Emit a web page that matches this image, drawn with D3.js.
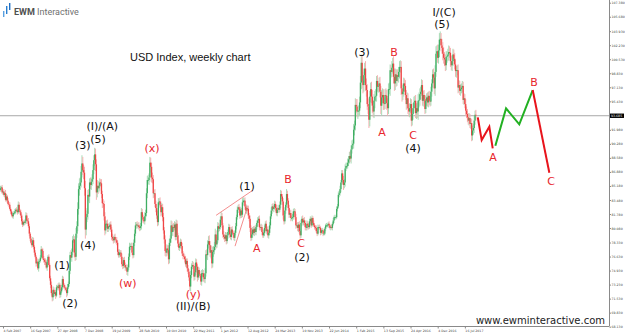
<!DOCTYPE html>
<html>
<head>
<meta charset="utf-8">
<script src="https://cdnjs.cloudflare.com/ajax/libs/d3/7.8.5/d3.min.js"></script>
<style>
  body { margin: 0; background: #fff; }
  svg { display: block; }
  .wave { font-family: "DejaVu Sans", sans-serif; font-size: 11px; text-anchor: middle; dominant-baseline: central; }
  .axis text { font-family: "DejaVu Sans", sans-serif; font-size: 3.2px; fill: #444; }
  .axis line { stroke: #888; }
  .axis path { display: none; }
</style>
</head>
<body>
<div id="chart"></div>
<script>
// weekly USD index closes, one array per year (first bar = week of 14 Jan 2007)
var firstOpen = 84.7;
var close2007 = [84.9,85.0,84.4,84.5,84.1,84.3,83.5,83.9,83.4,83.0,82.9,82.4,82.1,81.7,81.5,81.9,81.9,82.1,82.3,82.2,82.0,82.9,82.2,82.0,81.6,80.9,80.5,80.8,80.7,80.9,81.6,81.0,80.9,80.3,79.4,78.8,78.3,78.0,78.6,77.8,77.1,76.6,75.8,76.0,75.2,76.0,76.1,76.5,77.5,77.3,76.4];
var close2008 = [76.2,76.0,75.9,75.3,76.0,76.6,75.6,74.0,73.2,72.2,71.7,72.6,72.1,72.3,71.9,72.9,73.0,72.8,73.2,72.0,72.4,72.9,73.9,73.2,72.9,72.8,72.6,72.2,72.9,73.3,74.9,76.8,76.5,77.2,78.6,78.7,77.1,76.6,79.4,80.3,82.4,84.8,85.2,85.6,86.9,87.9,87.1,86.8,84.9,79.9,81.4,81.8];
var close2009 = [84.1,83.9,85.6,85.3,85.7,86.0,87.1,88.3,89.0,87.8,84.4,85.2,84.9,85.2,85.6,85.5,84.2,83.1,83.0,81.5,79.8,80.6,80.6,80.0,80.3,80.2,80.5,79.9,79.0,78.8,78.6,79.0,78.7,78.6,78.3,77.2,76.8,77.1,77.1,76.6,75.7,75.5,76.2,75.6,75.3,75.3,74.8,75.3,76.6,77.8,77.9,77.9];
var close2010 = [77.1,76.8,78.3,79.4,80.4,80.5,80.4,80.4,80.2,80.1,80.3,82.0,81.4,81.1,80.9,81.5,81.9,84.3,85.9,85.9,86.2,88.0,87.5,86.2,86.0,84.3,84.3,83.0,82.5,81.6,80.8,83.2,83.3,82.9,82.0,82.6,81.4,79.8,78.7,77.3,77.1,77.6,77.4,76.3,78.3,78.8,80.4,79.6,80.2,80.1,80.5,79.0];
var close2011 = [80.6,79.2,78.2,77.7,77.9,78.4,77.9,77.0,76.7,76.6,76.3,75.7,76.1,75.2,74.8,74.1,73.0,74.4,75.4,75.6,75.5,74.2,74.7,75.9,75.4,74.1,75.0,74.5,74.3,73.6,74.6,74.6,74.1,73.9,74.6,76.9,76.8,78.1,78.5,78.0,77.1,77.4,75.8,77.2,77.4,77.8,79.3,78.1,78.6,80.3,80.0,80.2];
var close2012 = [81.1,81.5,80.4,79.3,79.0,78.8,79.2,78.5,79.2,79.6,80.2,79.3,79.0,79.9,79.5,79.3,78.9,79.5,80.3,81.4,82.3,82.6,82.4,81.6,82.2,81.7,83.2,83.4,83.4,82.7,82.2,82.5,82.4,81.6,81.2,80.1,78.9,79.3,79.9,79.5,80.0,79.6,80.2,80.7,81.0,81.2,80.2,80.1,80.2,79.6,79.2,79.5,80.1];
var close2013 = [80.6,79.7,79.9,79.2,79.5,80.4,81.5,82.2,82.7,82.4,82.6,83.0,82.5,81.9,82.3,82.5,82.3,82.9,84.2,83.9,83.3,81.6,80.9,82.2,82.9,84.2,83.4,82.5,81.7,81.9,81.3,81.3,81.4,82.1,82.1,81.4,80.4,80.4,80.1,80.5,79.7,79.2,80.7,81.2,80.8,81.0,80.7,80.2,80.1,80.6,80.4,80.2];
var close2014 = [80.9,81.2,80.4,81.3,80.7,80.4,80.2,80.1,79.7,79.4,80.2,80.2,80.1,79.5,79.8,79.8,79.4,79.4,80.0,80.4,80.4,80.4,80.6,80.4,80.1,80.2,80.1,80.6,81.0,81.4,81.4,81.4,82.4,82.7,84.1,84.3,84.8,85.6,86.7,85.9,85.3,85.6,87.3,87.6,87.6,88.0,88.4,88.8,88.5,89.6,90.1,90.3];
var close2015 = [92.0,92.5,95.0,94.8,94.2,94.3,94.3,95.3,97.7,100.1,97.9,97.4,98.6,99.4,97.4,96.8,95.1,94.8,93.2,96.0,96.9,96.0,94.9,94.2,95.5,96.0,96.1,97.9,97.2,97.3,97.6,96.6,94.9,95.9,96.2,95.2,95.1,96.2,96.1,95.2,94.6,96.9,96.9,99.2,99.0,99.5,100.0,98.4,97.6,98.7,97.9,98.6];
var close2016 = [98.4,99.0,99.6,99.6,97.0,96.3,96.6,97.6,97.3,96.2,95.1,95.8,94.6,94.2,94.6,95.1,93.1,93.9,94.6,95.3,95.5,94.0,94.6,94.2,95.5,95.6,96.3,96.6,97.4,95.5,96.2,95.7,94.5,95.5,95.9,95.3,96.1,95.5,95.4,96.6,97.6,98.7,98.3,97.0,99.0,101.2,101.5,100.7,101.6,102.9,103.0,102.2];
var close2017 = [101.9,101.2,100.7,100.5,99.8,100.8,100.9,101.1,101.4,101.3,100.3,99.8,100.3,101.1,100.6,99.9,99.1,99.2,99.2,97.1,97.4,96.7,96.9,97.1,97.3,95.6,95.8,95.1,94.3,93.9,93.5,93.1,93.4,92.7,92.8,91.3,91.9,92.2,93.1,93.8,93.7];

// wick beyond the body, tenths of a point
var wickHi = [3,2,3,2,3,2,4,3,2,3,2,3,2,2,3,2,2,3,2,3,2,4,3,2,3,2,3,2,3,2,4,3,2,4,3,2,3,2,4,3,2,3,2,3,4,3,2,3,4,2,3,
  3,2,4,3,3,2,3,2,3,4,3,4,3,2,3,3,2,4,3,2,3,3,4,3,2,3,2,3,4,3,5,4,6,4,5,6,4,5,7,6,8,7,9,6,7,10,8,6,7,9,8,7,
  6,7,5,6,5,6,7,6,8,7,6,7,5,6,5,4,5,4,5,4,5,4,4,5,3,4,3,4,3,4,3,3,4,3,4,3,3,4,3,3,4,3,3,4,3,3,4,3,4,5,3,4,
  4,3,4,5,4,3,4,3,4,3,4,5,4,3,4,5,4,6,5,6,5,7,6,5,6,5,4,5,4,5,6,5,4,5,4,5,4,5,4,5,4,5,4,6,5,4,6,5,4,5,4,3,
  5,4,3,4,3,4,3,4,3,4,3,4,3,3,4,3,4,5,4,5,4,3,4,5,4,3,4,3,4,3,4,5,4,5,6,5,6,5,6,7,5,6,5,6,5,6,7,5,4,5,4,3,
  4,5,4,3,4,3,4,3,4,3,4,3,4,3,4,3,4,3,4,3,4,3,4,3,4,3,5,4,3,4,3,4,3,4,3,4,3,4,3,4,3,4,3,3,4,3,4,3,4,3,3,4,3,
  3,4,3,4,3,4,3,4,3,4,3,4,3,4,3,4,3,4,5,4,3,4,3,4,3,6,4,3,4,3,4,3,4,3,4,3,4,3,4,3,4,3,4,3,4,3,4,3,3,4,3,3,
  3,3,2,3,2,3,2,2,3,2,3,2,3,2,2,3,2,3,2,2,3,2,2,3,2,2,3,2,3,2,3,2,3,3,4,3,4,3,4,4,5,4,5,4,4,5,4,5,6,5,6,5,
  7,6,8,7,9,7,6,7,8,10,9,11,8,7,9,8,7,8,9,7,8,9,8,7,8,7,8,6,7,6,7,8,7,9,8,7,6,7,8,7,6,7,8,7,6,8,7,9,10,7,6,7,
  7,6,7,8,7,6,8,7,6,7,6,7,6,5,6,7,6,7,6,7,6,7,6,7,8,9,7,6,7,6,5,6,5,6,5,6,5,6,5,6,5,6,7,6,8,9,7,8,7,8,9,7,
  8,7,8,7,6,7,6,7,8,7,6,7,6,7,6,7,6,5,6,7,6,5,6,5,6,5,6,5,6,5,6,5,6,5,6,5,6,5,6,5,6];
var wickLo = [2,3,2,3,2,3,2,2,3,2,3,2,3,2,2,3,2,2,3,2,3,2,2,3,3,4,3,2,3,2,3,4,3,2,3,3,2,3,2,3,3,2,4,3,2,4,3,2,2,3,2,
  3,4,3,2,4,3,2,3,4,3,5,4,3,3,4,2,3,3,2,4,3,2,3,3,2,3,2,5,3,2,3,4,3,5,4,3,6,5,4,5,6,7,8,5,6,7,6,8,9,11,7,6,
  7,6,8,5,6,5,6,5,7,8,9,6,7,5,6,4,5,6,4,5,6,4,5,4,4,3,4,3,4,3,4,3,3,4,3,4,3,3,4,3,3,4,3,3,4,3,4,5,3,4,4,3,
  3,4,3,4,3,4,3,4,3,4,3,4,5,4,3,4,5,4,6,5,6,5,7,6,5,6,5,4,5,4,5,4,5,4,5,4,5,4,5,6,5,4,5,6,5,4,5,4,5,4,3,4,
  4,5,4,3,4,3,4,3,4,3,4,3,4,4,3,4,5,6,4,3,4,5,4,3,4,5,3,4,3,4,5,4,5,4,5,4,5,6,5,6,5,7,6,5,6,5,4,5,4,3,4,3,
  3,4,3,4,3,4,3,4,3,4,3,4,3,4,3,4,3,4,3,4,3,4,3,4,3,4,3,4,3,4,3,4,3,4,3,5,4,3,4,3,4,3,4,3,4,3,4,3,3,4,3,3,4,
  4,3,4,3,4,3,4,3,4,3,4,3,4,3,4,3,4,3,4,3,4,5,4,3,4,3,4,3,4,3,4,3,4,3,4,3,4,3,4,5,3,4,3,4,3,4,3,4,3,3,4,3,
  2,3,3,2,3,2,3,2,2,3,2,3,2,3,2,2,3,2,2,3,2,2,3,2,2,3,2,3,2,3,2,3,2,3,2,3,3,4,3,5,6,4,5,3,4,3,4,5,4,6,5,4,
  6,7,6,8,7,9,7,6,7,8,9,10,8,9,7,8,7,9,10,8,7,8,9,7,8,9,6,7,6,7,8,7,10,12,7,8,7,6,7,8,9,7,6,8,7,6,7,8,9,8,7,6,
  6,7,8,7,8,9,7,6,7,6,7,6,7,6,7,6,7,6,7,6,7,6,7,8,10,8,7,6,5,6,7,5,6,5,6,5,6,5,6,5,6,5,6,7,9,6,7,6,7,8,6,7,
  7,8,7,8,7,6,7,6,7,6,7,6,7,6,7,6,7,8,6,7,6,5,6,5,6,5,6,5,6,5,6,5,6,5,6,7,6,5,6,5,6];

var lastPrice = 93.685;
var priceTicks = [107.380,105.680,103.930,102.230,100.530,98.830,97.130,95.430,91.980,90.280,88.580,
  86.880,85.180,83.480,81.780,80.080,78.330,76.630,74.930,73.230,71.530,69.830,68.130];
var dateBars = [3,35,67,99,131,163,195,227,259,291,323,355,387,419,451,483,515,547];
var dateLabels = ["4 Feb 2007","16 Sep 2007","27 Apr 2008","7 Dec 2008","19 Jul 2009","28 Feb 2010",
  "10 Oct 2010","22 May 2011","1 Jan 2012","12 Aug 2012","24 Mar 2013","10 Nov 2013","22 Jun 2014",
  "1 Feb 2015","13 Sep 2015","24 Apr 2016","4 Dec 2016","16 Jul 2017"];

// wave count labels: text, bar, price, red?
var waveText  = ["(I)/(A)","(3)","(5)","(4)","(1)","(2)","(w)","(x)","(y)","(II)/(B)","(1)","A","B","C","(2)",
  "(3)","A","B","C","(4)","I/(C)","(5)","A","B","C"];
var waveBar   = [120,97,115,103,72.5,82,150,178.5,227,227,290.5,302,338.7,354,355.2,426,449.4,463.5,486,486,522.5,520,580.2,628.4,648.5];
var wavePrice = [92.43,90.12,90.86,78.0,75.58,70.98,73.4,89.77,72.07,70.62,85.16,77.65,86.01,78.15,76.55,
  101.4,91.71,101.4,91.3,89.7,106.25,104.68,88.66,97.77,85.77];
var waveRed   = [0,0,0,0,0,0,1,1,1,0,0,1,1,1,0,0,1,1,1,0,0,0,1,1,1];

// projected path after the last bar
var projA = [[562.2,93.49],[566.8,90.74],[575.8,92.35],[579.8,89.73]];
var projB = [[582.9,90.05],[595.5,94.58],[611.1,92.64],[626.9,96.80]];
var projC = [[626.9,96.80],[646.5,86.78]];
// diagonal lines around the 2012 wave (1)
var diagUpper = [[254,81.62],[297.5,84.68]];
var diagLower = [[276.3,77.89],[290.4,82.49]];

var width = 625, height = 334;
var plotRight = 609, plotBottom = 326;

var closes = [].concat(close2007, close2008, close2009, close2010, close2011, close2012,
  close2013, close2014, close2015, close2016, close2017);

var candles = closes.map(function (c, i) {
  var o = i ? closes[i - 1] : firstOpen;
  return {
    i: i, o: o, c: c,
    h: Math.max(o, c) + wickHi[i] / 10,
    l: Math.min(o, c) - wickLo[i] / 10
  };
});

var svg = d3.select("#chart").append("svg")
  .attr("width", width)
  .attr("height", height);

var x = d3.scaleLinear().domain([0, 717]).range([0.45, 609.2]);
var y = d3.scaleLinear().domain([68.13, 107.38]).range([326.7, 2.7]);

// frame lines
svg.append("line").attr("x1", plotRight + 0.5).attr("x2", plotRight + 0.5)
  .attr("y1", 0).attr("y2", plotBottom).attr("stroke", "#8a8a8a");
svg.append("line").attr("x1", 0).attr("x2", plotRight + 0.5)
  .attr("y1", plotBottom + 0.5).attr("y2", plotBottom + 0.5).attr("stroke", "#8a8a8a");

// right price axis
svg.append("g")
  .attr("class", "axis")
  .attr("transform", `translate(${plotRight + 0.5},0)`)
  .call(d3.axisRight(y).tickValues(priceTicks).tickSize(1.5).tickPadding(0.5).tickFormat(d3.format(".3f")));

// bottom date axis
var xAxis = svg.append("g")
  .attr("class", "axis")
  .attr("transform", `translate(0,${plotBottom + 0.5})`)
  .call(d3.axisBottom(x).tickValues(dateBars).tickSize(2).tickPadding(1)
    .tickFormat(function (d, i) { return dateLabels[i]; }));
xAxis.selectAll("text").style("text-anchor", "start").attr("dy", "0.9em");

// current price line
svg.append("line")
  .attr("x1", 0).attr("x2", plotRight)
  .attr("y1", y(lastPrice)).attr("y2", y(lastPrice))
  .attr("stroke", "#a8a8a8");
svg.append("rect")
  .attr("x", plotRight + 1).attr("y", y(lastPrice) - 2.2)
  .attr("width", 14).attr("height", 4.4).attr("fill", "#000");
svg.append("text")
  .attr("x", plotRight + 2).attr("y", y(lastPrice) + 1.2)
  .attr("fill", "#fff")
  .style("font-family", "DejaVu Sans, sans-serif").style("font-size", "3.2px")
  .text(d3.format(".3f")(lastPrice));

// candles: wicks then bodies
svg.append("g").selectAll("line")
  .data(candles)
  .enter()
  .append("line")
  .attr("x1", d => x(d.i)).attr("x2", d => x(d.i))
  .attr("y1", d => y(d.h)).attr("y2", d => y(d.l))
  .attr("stroke", d => d.c >= d.o ? "#a9dbb6" : "#f6b0b0")
  .attr("stroke-width", 1);

svg.append("g").selectAll("rect")
  .data(candles)
  .enter()
  .append("rect")
  .attr("x", d => x(d.i) - 0.65)
  .attr("width", 1.3)
  .attr("y", d => y(Math.max(d.o, d.c)))
  .attr("height", d => Math.max(0.8, Math.abs(y(d.o) - y(d.c))))
  .attr("fill", d => d.c >= d.o ? "#3fae63" : "#ef4444");

// diagonal lines
var line = d3.line().x(d => x(d[0])).y(d => y(d[1]));
[diagUpper, diagLower].forEach(function (pts) {
  svg.append("path").attr("d", line(pts)).attr("fill", "none")
    .attr("stroke", "#f07070").attr("stroke-width", 0.8);
});

// projection
svg.append("path").attr("d", line(projA)).attr("fill", "none").attr("stroke", "#e8141c").attr("stroke-width", 2);
svg.append("path").attr("d", line(projB)).attr("fill", "none").attr("stroke", "#22b022").attr("stroke-width", 2);
svg.append("path").attr("d", line(projC)).attr("fill", "none").attr("stroke", "#e8141c").attr("stroke-width", 2);

// wave labels
svg.append("g").selectAll("text")
  .data(waveText)
  .enter()
  .append("text")
  .attr("class", "wave")
  .attr("x", (d, i) => x(waveBar[i]))
  .attr("y", (d, i) => y(wavePrice[i]))
  .attr("fill", (d, i) => waveRed[i] ? "#e8262c" : "#111")
  .text(d => d);

// title
svg.append("text")
  .attr("x", 130).attr("y", 61)
  .style("font-family", "Liberation Sans, Arial, sans-serif").style("font-size", "11px")
  .attr("fill", "#111")
  .text("USD Index, weekly chart");

// logo
var logo = svg.append("g");
logo.append("rect").attr("x", 3).attr("y", 11).attr("width", 1.4).attr("height", 6).attr("fill", "#5aa0e0");
logo.append("rect").attr("x", 6).attr("y", 6).attr("width", 1.4).attr("height", 8).attr("fill", "#2a7fd0");
logo.append("rect").attr("x", 9).attr("y", 3).attr("width", 1.4).attr("height", 7).attr("fill", "#1e6fc4");
var logoText = logo.append("text").attr("x", 14).attr("y", 15)
  .style("font-family", "Roboto, sans-serif").style("font-size", "9px");
logoText.append("tspan").attr("fill", "#505050").style("font-weight", "bold").text("EWM");
logoText.append("tspan").attr("fill", "#707070").text(" Interactive");

// watermark
svg.append("text")
  .attr("x", 605).attr("y", 324)
  .style("font-family", "DejaVu Sans, sans-serif").style("font-size", "10px")
  .style("text-anchor", "end")
  .attr("fill", "#222")
  .text("www.ewminteractive.com");
</script>
</body>
</html>
